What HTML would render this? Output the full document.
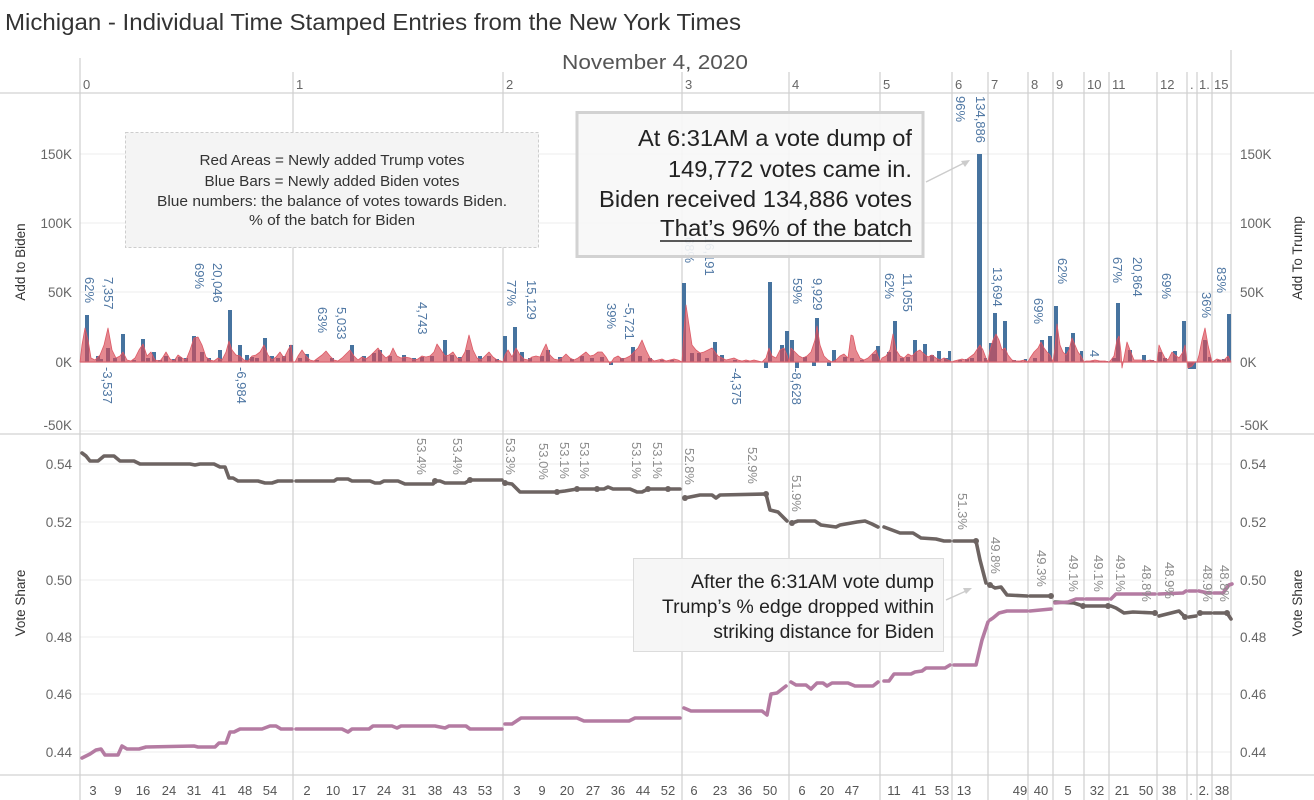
<!DOCTYPE html>
<html><head><meta charset="utf-8">
<style>
html,body{margin:0;padding:0;background:#fff;}
svg{display:block;font-family:"Liberation Sans",sans-serif;}
</style></head>
<body>
<svg width="1314" height="800" viewBox="0 0 1314 800" xmlns="http://www.w3.org/2000/svg">
<defs>
<clipPath id="c10"><rect x="1053" y="200" width="31" height="240"/></clipPath>
<clipPath id="c12"><rect x="1157" y="200" width="30" height="240"/></clipPath>
<clipPath id="c13"><rect x="1187" y="200" width="10" height="240"/></clipPath>
<clipPath id="c13b"><rect x="1187" y="440" width="10" height="300"/></clipPath>
</defs>
<rect width="1314" height="800" fill="#fff"/>

<!-- title -->
<text x="5" y="30" font-size="23" fill="#333" textLength="736" lengthAdjust="spacingAndGlyphs">Michigan - Individual Time Stamped Entries from the New York Times</text>
<text x="655" y="69" font-size="20" fill="#555" text-anchor="middle" textLength="186" lengthAdjust="spacingAndGlyphs">November 4, 2020</text>

<!-- gridlines -->
<g stroke="#ececec" stroke-width="1">
<line x1="80" y1="154" x2="1231" y2="154"/>
<line x1="80" y1="223" x2="1231" y2="223"/>
<line x1="80" y1="292" x2="1231" y2="292"/>
<line x1="80" y1="431" x2="1231" y2="431"/>
<line x1="80" y1="464" x2="1231" y2="464"/>
<line x1="80" y1="522" x2="1231" y2="522"/>
<line x1="80" y1="580" x2="1231" y2="580"/>
<line x1="80" y1="637" x2="1231" y2="637"/>
<line x1="80" y1="694" x2="1231" y2="694"/>
<line x1="80" y1="752" x2="1231" y2="752"/>
</g>

<!-- panel separators -->
<g stroke="#d2d2d2" stroke-width="1.2">
<line x1="0" y1="93" x2="1314" y2="93"/>
<line x1="0" y1="434" x2="1314" y2="434"/>
<line x1="0" y1="775" x2="1314" y2="775"/>
</g>

<!-- hour lines -->
<g stroke="#cfcfcf" stroke-width="1.2">
<line x1="80" y1="58" x2="80" y2="800"/>
<line x1="293" y1="72" x2="293" y2="800"/>
<line x1="503" y1="72" x2="503" y2="800"/>
<line x1="682" y1="72" x2="682" y2="800"/>
<line x1="789" y1="72" x2="789" y2="800"/>
<line x1="880" y1="72" x2="880" y2="800"/>
<line x1="952" y1="72" x2="952" y2="800"/>
<line x1="988" y1="72" x2="988" y2="800"/>
<line x1="1028" y1="72" x2="1028" y2="800"/>
<line x1="1053" y1="72" x2="1053" y2="800"/>
<line x1="1084" y1="72" x2="1084" y2="800"/>
<line x1="1109" y1="72" x2="1109" y2="800"/>
<line x1="1157" y1="72" x2="1157" y2="800"/>
<line x1="1187" y1="72" x2="1187" y2="800"/>
<line x1="1197" y1="72" x2="1197" y2="800"/>
<line x1="1212" y1="72" x2="1212" y2="800"/>
<line x1="1231" y1="50" x2="1231" y2="800"/>
</g>

<!-- top hour labels -->
<g font-size="13" fill="#666">
<text x="83" y="89">0</text><text x="296" y="89">1</text><text x="506" y="89">2</text>
<text x="685" y="89">3</text><text x="792" y="89">4</text><text x="883" y="89">5</text>
<text x="955" y="89">6</text><text x="991" y="89">7</text><text x="1031" y="89">8</text>
<text x="1056" y="89">9</text><text x="1087" y="89">10</text><text x="1112" y="89">11</text>
<text x="1160" y="89">12</text><text x="1190" y="89">.</text><text x="1199" y="89">1.</text>
<text x="1214" y="89">15</text>
</g>

<!-- bottom labels -->
<g font-size="13" fill="#555" text-anchor="middle">
<text x="93" y="795">3</text><text x="118" y="795">9</text><text x="143" y="795">16</text><text x="169" y="795">24</text><text x="194" y="795">31</text><text x="219" y="795">41</text><text x="245" y="795">48</text><text x="270" y="795">54</text>
<text x="307" y="795">2</text><text x="333" y="795">10</text><text x="359" y="795">17</text><text x="384" y="795">24</text><text x="409" y="795">31</text><text x="435" y="795">38</text><text x="460" y="795">43</text><text x="485" y="795">53</text>
<text x="517" y="795">3</text><text x="542" y="795">9</text><text x="567" y="795">20</text><text x="593" y="795">27</text><text x="618" y="795">36</text><text x="643" y="795">44</text><text x="668" y="795">52</text>
<text x="694" y="795">6</text><text x="720" y="795">23</text><text x="745" y="795">36</text><text x="770" y="795">50</text>
<text x="802" y="795">6</text><text x="827" y="795">20</text><text x="852" y="795">47</text>
<text x="894" y="795">11</text><text x="919" y="795">41</text><text x="942" y="795">53</text>
<text x="964" y="795">13</text><text x="1020" y="795">49</text><text x="1041" y="795">40</text>
<text x="1068" y="795">5</text><text x="1097" y="795">32</text><text x="1122" y="795">21</text><text x="1146" y="795">50</text>
<text x="1169" y="795">38</text><text x="1191" y="795">.</text><text x="1204" y="795">2.</text><text x="1222" y="795">38</text>
</g>

<!-- axis tick labels -->
<g font-size="13.5" fill="#666">
<g text-anchor="end">
<text x="72" y="159">150K</text><text x="72" y="228">100K</text><text x="72" y="297">50K</text><text x="72" y="367">0K</text><text x="72" y="430">-50K</text>
<text x="72" y="469">0.54</text><text x="72" y="527">0.52</text><text x="72" y="585">0.50</text><text x="72" y="642">0.48</text><text x="72" y="699">0.46</text><text x="72" y="757">0.44</text>
</g>
<text x="1240" y="159">150K</text><text x="1240" y="228">100K</text><text x="1240" y="297">50K</text><text x="1240" y="367">0K</text><text x="1240" y="430">-50K</text>
<text x="1240" y="469">0.54</text><text x="1240" y="527">0.52</text><text x="1240" y="585">0.50</text><text x="1240" y="642">0.48</text><text x="1240" y="699">0.46</text><text x="1240" y="757">0.44</text>
</g>
<g font-size="13.5" fill="#333" text-anchor="middle">
<text transform="translate(25,262) rotate(-90)">Add to Biden</text>
<text transform="translate(25,603) rotate(-90)">Vote Share</text>
<text transform="translate(1302,258) rotate(-90)">Add To Trump</text>
<text transform="translate(1302,603) rotate(-90)">Vote Share</text>
</g>

<!-- blue bars -->
<path fill="#46739f" d="
M85 315h4V362h-4z M96 356h4V362h-4z M100 359h3V362h-3z M106 348h4V362h-4z M113 358h4V362h-4z M121 334h4V362h-4z M132 360h4V362h-4z M141 339h4V362h-4z M146 358h4V362h-4z M152 352h4V362h-4z M158 360h4V362h-4z M164 356h4V362h-4z M172 359h4V362h-4z M178 357h4V362h-4z M184 358h4V362h-4z M192 336h4V362h-4z M200 352h4V362h-4z M207 358h4V362h-4z M218 350h4V362h-4z M228 310h4V362h-4z M238 345h4V362h-4z M245 355h4V362h-4z M250 357h4V362h-4z M255 358h4V362h-4z M263 338h4V362h-4z M270 356h4V362h-4z M276 358h4V362h-4z M282 356h4V362h-4z M289 345h4V362h-4z
M298 358h4V362h-4z M305 354h4V362h-4z M315 360h4V362h-4z M330 358h4V362h-4z M350 345h4V362h-4z M362 356h4V362h-4z M372 353h4V362h-4z M378 350h4V362h-4z M388 356h4V362h-4z M402 355h4V362h-4z M412 358h4V362h-4z M420 357h4V362h-4z M430 356h4V362h-4z M443 340h4V362h-4z M450 355h4V362h-4z M458 357h4V362h-4z M466 350h4V362h-4z M478 356h4V362h-4z M487 356h4V362h-4z M495 359h4V362h-4z
M503 336h4V362h-4z M513 327h4V362h-4z M520 352h4V362h-4z M528 358h4V362h-4z M540 356h4V362h-4z M546 350h4V362h-4z M558 357h4V362h-4z M570 359h4V362h-4z M580 356h4V362h-4z M590 358h4V362h-4z M600 357h4V362h-4z M609 362h4V365h-4z M620 358h4V362h-4z M631 347h4V362h-4z M638 356h4V362h-4z M648 358h4V362h-4z M660 360h4V362h-4z M670 360h4V362h-4z
M682 283h4V362h-4z M690 353h4V362h-4z M697 353h4V362h-4z M705 358h4V362h-4z M713 342h4V362h-4z M720 355h4V362h-4z M733 360h4V362h-4z M745 361h4V362h-4z M764 362h4V368h-4z M768 282h4V362h-4z M780 345h4V362h-4z M785 331h4V362h-4z
M790 340h4V362h-4z M795 362h4V368h-4z M803 357h4V362h-4z M812 362h4V366h-4z M815 318h4V362h-4z M827 362h4V366h-4z M832 350h4V362h-4z M843 357h4V362h-4z M850 358h4V362h-4z M860 360h4V362h-4z M872 354h4V362h-4z M876 346h4V362h-4z
M887 352h4V362h-4z M893 321h4V362h-4z M900 358h4V362h-4z M906 357h4V362h-4z M913 340h4V362h-4z M923 344h4V362h-4z M930 355h4V362h-4z M937 351h4V362h-4z M944 358h4V362h-4z M948 351h3V362h-3z
M958 360h4V362h-4z M965 359h4V362h-4z M970 358h4V362h-4z M977 154h5V362h-5z M984 358h3V362h-3z
M989 343h4V362h-4z M993 313h4V362h-4z M1003 321h4V362h-4z M1012 360h4V362h-4z M1018 361h4V362h-4z M1024 359h3V362h-3z
M1033 358h4V362h-4z M1040 340h4V362h-4z M1048 336h4V362h-4z
M1054 306h4V362h-4z M1065 347h4V362h-4z M1071 333h4V362h-4z M1080 351h3V362h-3z
M1090 361h4V362h-4z M1098 361h4V362h-4z M1104 361h4V362h-4z
M1112 358h4V362h-4z M1116 303h4V362h-4z M1128 350h4V362h-4z M1142 355h4V362h-4z M1150 360h4V362h-4z
M1158 352h4V362h-4z M1163 358h4V362h-4z M1173 351h4V362h-4z M1182 321h4V362h-4z
M1188 362h4V369h-4z M1192 362h4V369h-4z
M1203 340h4V362h-4z M1208 357h3V362h-3z
M1217 360h4V362h-4z M1222 359h4V362h-4z M1227 314h4V362h-4z"/>

<!-- red area -->
<polygon fill="#d84a56" fill-opacity="0.66" stroke="#dc5a66" stroke-width="0.8" stroke-linejoin="round" points="
80,362 82,345 85,328 88,340 91,358 95,360 100,355 104,345 108,328 112,350 116,358 120,356 123,352 127,360 131,361 135,358 139,350 143,344 147,356 151,352 155,360 160,361 163,357 166,352 170,359 174,361 178,355 182,358 186,360 190,350 194,338 198,337 202,345 206,357 210,360 214,361 218,358 222,360 226,352 229,341 232,350 236,355 240,356 244,360 248,361 252,356 256,355 260,352 264,345 268,355 272,360 276,357 280,352 284,358 288,350 291,345 293,362
295,362 298,356 302,350 306,356 310,360 314,361 318,358 322,355 326,351 330,356 334,360 338,361 342,358 346,354 350,350 354,356 358,360 362,357 366,359 370,356 374,352 378,348 382,354 386,358 390,355 393,348 397,356 401,358 405,357 410,358 414,360 418,359 422,356 426,357 430,356 434,352 437,344 441,350 445,356 449,355 453,352 457,358 461,359 465,352 469,335 473,350 477,358 481,360 485,356 489,352 493,357 497,360 501,361 503,362
505,355 508,350 512,357 516,348 520,355 524,359 528,360 532,357 536,356 540,357 543,350 546,344 550,355 554,359 558,360 562,358 566,354 570,358 574,360 578,358 582,355 586,352 590,356 594,355 598,352 602,352 606,357 610,364 614,358 618,356 622,359 626,358 630,356 634,352 638,348 642,340 646,350 650,358 654,361 658,360 662,359 666,361 670,360 674,359 678,360 682,362
684,330 686,305 689,325 692,345 696,350 700,353 704,352 708,350 712,348 715,352 718,356 722,358 726,360 730,359 734,358 738,360 742,361 746,360 750,361 754,360 758,361 762,362 766,358 769,348 772,356 776,358 780,350 784,348 787,355 789,362
791,348 795,352 799,356 803,358 807,356 811,352 815,340 817,326 820,345 824,356 828,360 832,362 836,360 840,356 844,354 848,358 851,335 853,336 856,350 860,358 864,360 868,358 872,354 876,350 880,362
882,358 886,356 890,350 893,334 896,350 900,356 904,358 908,354 912,356 916,352 920,350 924,354 928,357 932,355 936,358 940,360 944,358 948,360 952,362
954,361 958,360 962,359 966,360 970,357 974,354 978,348 980,345 983,350 986,358 988,362
990,350 993,340 996,334 999,340 1002,350 1005,348 1008,355 1012,360 1016,361 1020,361 1024,360 1028,362
1030,358 1034,352 1038,348 1041,342 1044,348 1047,352 1050,355 1053,362
1055,348 1057,324 1060,345 1063,352 1066,355 1069,350 1072,338 1075,345 1078,352 1081,356 1084,362
1086,361 1090,361 1095,360 1100,361 1105,361 1109,362
1111,360 1114,356 1117,340 1119,336 1121,352 1122,368 1124,358 1127,342 1130,350 1134,360 1138,360 1142,360 1146,361 1150,360 1154,361 1157,362
1159,345 1162,352 1165,358 1168,360 1172,352 1175,355 1179,358 1183,352 1185,345 1187,362
1188,368 1192,366 1195,362 1197,362
1199,355 1202,340 1205,328 1208,345 1211,358 1212,362
1214,361 1217,359 1220,360 1224,360 1228,356 1231,362"/>
<line x1="80" y1="362" x2="1231" y2="362" stroke="#d9646f" stroke-width="1.2"/>

<!-- blue labels -->
<g font-size="13" fill="#4f77a3">
<text transform="translate(85,277) rotate(90)">62%</text>
<text transform="translate(104,277) rotate(90)">7,357</text>
<text transform="translate(103,367) rotate(90)">-3,537</text>
<text transform="translate(195,263) rotate(90)">69%</text>
<text transform="translate(213,263) rotate(90)">20,046</text>
<text transform="translate(237,367) rotate(90)">-6,984</text>
<text transform="translate(318,307) rotate(90)">63%</text>
<text transform="translate(337,307) rotate(90)">5,033</text>
<text transform="translate(418,302) rotate(90)">4,743</text>
<text transform="translate(507,280) rotate(90)">77%</text>
<text transform="translate(527,280) rotate(90)">15,129</text>
<text transform="translate(607,303) rotate(90)">39%</text>
<text transform="translate(625,303) rotate(90)">-5,721</text>
<text transform="translate(685,237) rotate(90)">68%</text>
<text transform="translate(705,236) rotate(90)">16,191</text>
<text transform="translate(732,368) rotate(90)">-4,375</text>
<text transform="translate(793,278) rotate(90)">59%</text>
<text transform="translate(792,368) rotate(90)">-8,628</text>
<text transform="translate(813,278) rotate(90)">9,929</text>
<text transform="translate(885,273) rotate(90)">62%</text>
<text transform="translate(903,273) rotate(90)">11,055</text>
<text transform="translate(956,96) rotate(90)">96%</text>
<text transform="translate(976,96) rotate(90)">134,886</text>
<text transform="translate(993,267) rotate(90)">13,694</text>
<text transform="translate(1034,298) rotate(90)">69%</text>
<text transform="translate(1058,258) rotate(90)">62%</text>
<text clip-path="url(#c10)" transform="translate(1077,260) rotate(90)">14,690</text>
<text transform="translate(1090,350) rotate(90)">4</text>
<text transform="translate(1113,257) rotate(90)">67%</text>
<text transform="translate(1133,257) rotate(90)">20,864</text>
<text transform="translate(1162,273) rotate(90)">69%</text>
<text clip-path="url(#c12)" transform="translate(1180,275) rotate(90)">15,206</text>
<text clip-path="url(#c13)" transform="translate(1191,352) rotate(90)">-1,112</text>
<text transform="translate(1202,292) rotate(90)">36%</text>
<text transform="translate(1217,267) rotate(90)">83%</text>
</g>

<!-- trump line -->
<g fill="none" stroke="#6d6462" stroke-width="3.6" stroke-linejoin="round" stroke-linecap="round">
<polyline points="82,453 86,456 90,461 98,461 104,456 114,456 120,461 134,461 140,464 190,464 195,465 200,464 214,464 220,467 225,467 229,478 233,478 238,481 258,481 265,483 272,483 278,481 292,481"/>
<polyline points="296,481 334,481 337,479 348,479 352,481 370,481 375,483 380,483 384,481 398,481 405,484 433,484 436,481 440,481 445,483 465,483 470,480 502,480"/>
<polyline points="505,483 512,484 520,492 557,492 565,491 577,489 597,489 604,489 608,487 613,489 630,489 637,492 642,492 648,489 680,489"/>
<polyline points="685,498 700,495 712,495 716,498 720,495 766,494 770,510 778,512 787,521"/>
<polyline points="792,523 798,521 815,521 821,525 836,527 840,525 857,522 865,521 872,524 878,527"/>
<polyline points="884,527 900,533 913,533 921,538 936,539 944,541 950,541"/>
<polyline points="954,541 976,541 980,560 986,583"/>
<polyline points="990,585 995,588 1001,587 1007,595 1027,596"/>
<polyline points="1030,596 1051,596"/>
<polyline points="1055,602 1074,603 1083,606"/>
<polyline points="1086,606 1108,606"/>
<polyline points="1111,606 1116,608 1124,613 1133,612 1155,613"/>
<polyline points="1159,616 1179,611 1185,617"/>
<polyline points="1189,617 1196,616"/>
<polyline points="1199,613 1211,613"/>
<polyline points="1214,613 1227,613 1231,619"/>
</g>
<g fill="#6d6462">
<circle cx="435" cy="481" r="3"/><circle cx="470" cy="480" r="3"/><circle cx="505" cy="483" r="3"/>
<circle cx="557" cy="492" r="3"/><circle cx="577" cy="489" r="3"/><circle cx="597" cy="489" r="3"/>
<circle cx="648" cy="489" r="3"/><circle cx="668" cy="489" r="3"/><circle cx="685" cy="498" r="3"/>
<circle cx="766" cy="494" r="3"/><circle cx="792" cy="523" r="3"/><circle cx="976" cy="541" r="3"/>
<circle cx="990" cy="585" r="3"/><circle cx="1051" cy="596" r="3"/><circle cx="1083" cy="606" r="3"/>
<circle cx="1108" cy="606" r="3"/><circle cx="1155" cy="613" r="3"/><circle cx="1185" cy="617" r="3"/>
<circle cx="1200" cy="613" r="3"/><circle cx="1227" cy="613" r="3"/>
</g>

<!-- biden line -->
<g fill="none" stroke="#b47ba2" stroke-width="3.6" stroke-linejoin="round" stroke-linecap="round">
<polyline points="82,758 90,754 96,750 101,749 105,755 118,755 122,746 127,749 139,749 146,747 194,746 198,747 215,747 219,743 226,743 230,732 234,732 240,729 262,729 270,726 276,726 281,729 292,729"/>
<polyline points="296,729 342,729 348,732 352,729 369,729 373,726 392,726 397,728 401,726 435,726 445,728 449,726 466,726 470,729 502,729"/>
<polyline points="505,724 512,724 521,718 577,718 584,721 629,721 635,718 680,718"/>
<polyline points="684,708 691,711 762,711 767,715 771,694 777,693 786,686"/>
<polyline points="791,682 796,685 806,685 811,689 817,683 823,683 827,686 832,683 848,683 855,686 873,686 878,682"/>
<polyline points="884,681 889,681 894,674 911,674 915,672 922,671 926,668 945,668 950,665"/>
<polyline points="954,665 976,665 982,640 988,622"/>
<polyline points="990,620 993,618 999,613 1007,611 1027,611"/>
<polyline points="1030,611 1051,609"/>
<polyline points="1055,603 1068,602 1076,599 1083,599"/>
<polyline points="1086,599 1108,599"/>
<polyline points="1111,599 1116,594 1155,594"/>
<polyline points="1159,594 1183,593 1186,591"/>
<polyline points="1189,591 1196,591"/>
<polyline points="1199,591 1208,593 1211,593"/>
<polyline points="1214,593 1223,593 1229,585 1232,584"/>
</g>

<!-- gray labels -->
<g font-size="13" fill="#8c8c8c">
<text transform="translate(417,438) rotate(90)">53.4%</text>
<text transform="translate(453,438) rotate(90)">53.4%</text>
<text transform="translate(506,438) rotate(90)">53.3%</text>
<text transform="translate(539,443) rotate(90)">53.0%</text>
<text transform="translate(560,442) rotate(90)">53.1%</text>
<text transform="translate(580,442) rotate(90)">53.1%</text>
<text transform="translate(632,442) rotate(90)">53.1%</text>
<text transform="translate(653,442) rotate(90)">53.1%</text>
<text transform="translate(685,448) rotate(90)">52.8%</text>
<text transform="translate(748,447) rotate(90)">52.9%</text>
<text transform="translate(792,475) rotate(90)">51.9%</text>
<text transform="translate(958,493) rotate(90)">51.3%</text>
<text transform="translate(991,537) rotate(90)">49.8%</text>
<text transform="translate(1037,550) rotate(90)">49.3%</text>
<text transform="translate(1069,555) rotate(90)">49.1%</text>
<text transform="translate(1094,555) rotate(90)">49.1%</text>
<text transform="translate(1116,555) rotate(90)">49.1%</text>
<text transform="translate(1142,565) rotate(90)">48.8%</text>
<text transform="translate(1165,562) rotate(90)">48.9%</text>
<text clip-path="url(#c13b)" transform="translate(1190,575) rotate(90)">48.7%</text>
<text transform="translate(1203,565) rotate(90)">48.9%</text>
<text transform="translate(1220,565) rotate(90)">48.8%</text>
</g>

<!-- legend box -->
<rect x="125.5" y="132.5" width="413" height="115" fill="#f4f4f4" stroke="#cdcdcd" stroke-dasharray="3,2"/>
<g font-size="14.5" fill="#333" text-anchor="middle">
<text x="332" y="165" textLength="265" lengthAdjust="spacingAndGlyphs">Red Areas = Newly added Trump votes</text>
<text x="332" y="186" textLength="255" lengthAdjust="spacingAndGlyphs">Blue Bars = Newly added Biden votes</text>
<text x="332" y="206" textLength="350" lengthAdjust="spacingAndGlyphs">Blue numbers: the balance of votes towards Biden.</text>
<text x="332" y="225" textLength="166" lengthAdjust="spacingAndGlyphs">% of the batch for Biden</text>
</g>

<!-- big annotation -->
<line x1="926" y1="182" x2="964" y2="163" stroke="#cccccc" stroke-width="1.5"/>
<polygon points="970,160 961,161 965,167" fill="#cccccc"/>
<rect x="577" y="112.5" width="346" height="144" fill="#f7f7f7" fill-opacity="0.9" stroke="#d2d2d2" stroke-width="3"/>
<g font-size="23.5" fill="#222" text-anchor="end">
<text x="912" y="146" textLength="274" lengthAdjust="spacingAndGlyphs">At 6:31AM a vote dump of</text>
<text x="912" y="177" textLength="244" lengthAdjust="spacingAndGlyphs">149,772 votes came in.</text>
<text x="912" y="207" textLength="313" lengthAdjust="spacingAndGlyphs">Biden received 134,886 votes</text>
<text x="912" y="236" textLength="252" lengthAdjust="spacingAndGlyphs">That’s 96% of the batch</text>
</g>
<line x1="660" y1="241" x2="912" y2="241" stroke="#222" stroke-width="1.5"/>

<!-- lower annotation -->
<line x1="946" y1="600" x2="966" y2="591" stroke="#cccccc" stroke-width="1.5"/>
<polygon points="972,588 963,588 966,594" fill="#cccccc"/>
<rect x="633.5" y="558.5" width="310" height="93" fill="#f6f6f6" fill-opacity="0.95" stroke="#dcdcdc"/>
<g font-size="19.3" fill="#222" text-anchor="end">
<text x="934" y="588" textLength="243" lengthAdjust="spacingAndGlyphs">After the 6:31AM vote dump</text>
<text x="934" y="613" textLength="272" lengthAdjust="spacingAndGlyphs">Trump’s % edge dropped within</text>
<text x="934" y="638">striking distance for Biden</text>
</g>
</svg>
</body></html>
